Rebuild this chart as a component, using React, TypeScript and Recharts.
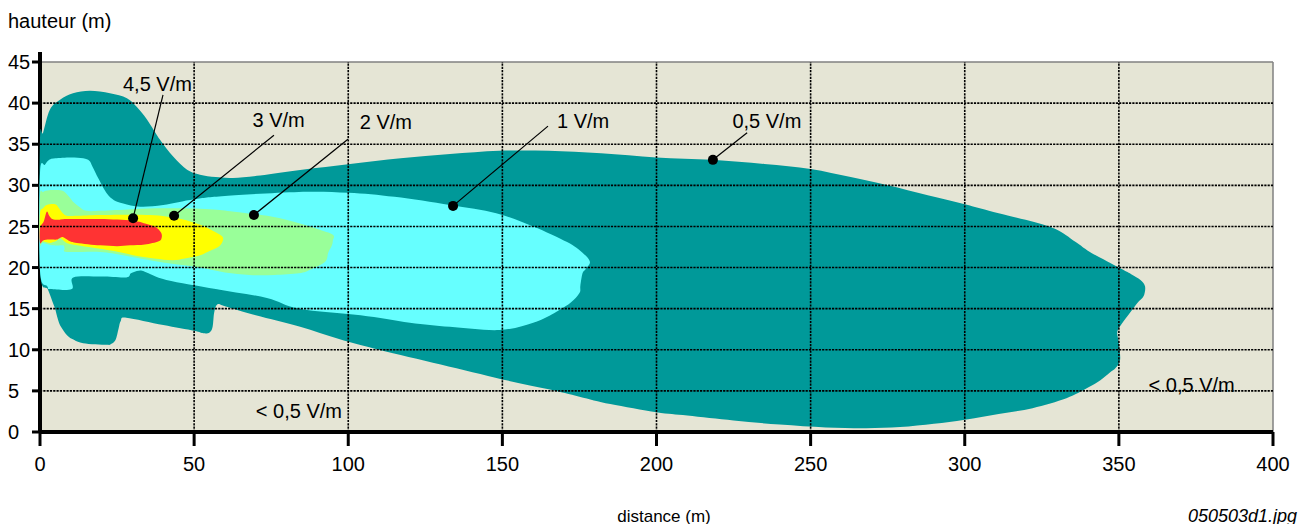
import React from "react";
import {
  CartesianGrid,
  ComposedChart,
  ReferenceLine,
  Scatter,
  XAxis,
  YAxis,
} from "recharts";

type Pt = { x: number; y: number };

// distance (m), hauteur (m) — contours
const zone05: Pt[] = [
  [0, 19.6], [0, 35.5], [1, 36.4], [3.2, 39.2], [6.5, 40.4], [10.7, 41.2], [16.2, 41.5],
  [22.7, 41.2], [28.2, 40.6], [31.5, 39.5], [34.7, 38], [39, 35.5], [43.2, 33.5],
  [47.7, 31.9], [51.9, 31.3], [57, 31], [62.6, 30.9], [71.4, 31.2], [85, 31.9],
  [100.6, 32.6], [117, 33.3], [133, 33.8], [149, 34.2], [165, 34.2], [182, 33.9],
  [200, 33.4], [218, 33.1], [235, 32.6], [250, 32], [263, 31], [275, 30], [288, 28.8],
  [300, 27.7], [311, 26.6], [328, 24.9], [336, 23.1], [340.6, 21.9], [350, 20],
  [354, 19.2], [357, 18.5], [358.5, 17.7], [358, 16.5], [356, 15.7], [353.6, 14.5],
  [351, 13.2], [349.5, 12.2], [350, 10.8], [350.4, 8.8], [349, 7.8], [347, 7.2],
  [344, 6.3], [340, 5.4], [333, 4.1], [322, 2.9], [311, 2.2], [300, 1.5], [290, 1],
  [279, 0.6], [268, 0.45], [255, 0.55], [240, 0.9], [225, 1.4], [210, 2], [200, 2.4],
  [185, 3.4], [175, 4.3], [165, 5.2], [150, 6.4], [130, 8.2], [110, 10], [97, 11.3],
  [84.4, 12.8], [70, 14.2], [60, 15.3], [57.5, 15.5], [56.5, 14.5], [56, 12.8],
  [55, 12.1], [53, 12], [50, 12.3], [40, 13], [28, 13.9], [26.2, 13.5], [25.5, 12.6],
  [24.5, 11.2], [23, 10.7], [21.7, 10.6], [14, 10.8], [10.5, 11.3], [8.7, 11.8],
  [6.8, 12.8], [5.9, 13.6], [4.9, 15], [4.3, 15.6], [2.6, 17.3],
].map(([x, y]) => ({ x, y }));

const zone1: Pt[] = [
  [0, 31.5], [1.6, 32.5], [3, 33.1], [4.9, 33.3], [10, 33.4], [14, 33.3], [16, 33],
  [17, 32.3], [19, 30.8], [21.7, 29], [24, 28.2], [27, 27.8], [32.5, 27.4], [40, 27.6],
  [50, 28.3], [60, 28.7], [84, 29.2], [100, 29.1], [115, 28.6], [133, 27.6], [148, 26.6],
  [160, 25], [171, 23.1], [176, 21.8], [178.4, 20.7], [177, 19.8], [176, 19.3],
  [175.3, 17.8], [175, 16.9], [172, 15.7], [166, 14.3], [160, 13.3], [149, 12.4],
  [133, 12.8], [120, 13.3], [104, 14.2], [84, 15], [73.6, 16.3], [57, 17.4], [41, 18.5],
  [34, 19.5], [32, 19.6], [29.5, 19.3], [28, 18.8], [20, 18.9], [10.8, 18.8],
  [10.3, 17.4], [3.5, 17.4], [2.4, 17.7], [0, 19.6],
].map(([x, y]) => ({ x, y }));

const zone2: Pt[] = [
  [0, 23], [0, 28.8], [1, 29.2], [3, 29.4], [6.5, 29.4], [8, 29.2], [9.7, 28.5], [11, 27.9],
  [13, 27.3], [15, 26.9], [20, 26.9], [30, 27.1], [41, 27.2], [55, 27.1], [63, 26.8],
  [75, 26.2], [84, 25.4], [90, 24.7], [95, 24], [95, 23.3], [94.7, 22.7], [93.5, 21.8],
  [92.5, 20.7], [88, 19.8], [84, 19.3], [76, 19.1], [68, 19.1], [60, 19.4], [52, 20],
  [44, 20.4], [35.7, 20.9], [27, 21.5], [19.5, 21.9], [8.7, 21.9], [8, 22.3], [7.5, 22.7],
  [4.3, 22.7], [1, 23],
].map(([x, y]) => ({ x, y }));

const zone3: Pt[] = [
  [0, 23.3], [0, 26.6], [1, 27.2], [2.2, 27.6], [4.9, 27.7], [6, 27.3], [7, 26.8],
  [8.7, 26.3], [12, 26.3], [19.5, 26.4], [35.7, 26.4], [44.4, 26], [48, 25.7], [52, 25.2],
  [55, 24.7], [58.4, 24], [59.4, 23.6], [59, 23], [57.8, 22.5], [55, 22], [52, 21.5],
  [47, 21.1], [43, 20.9], [37, 21.1], [30.2, 21.5], [24, 22], [17.3, 22.4], [12, 22.7],
  [8.7, 23], [7.2, 23.4], [6.5, 23.6], [5.5, 23.3], [4.3, 23.1], [3.2, 23], [1, 23.2],
].map(([x, y]) => ({ x, y }));

const zone45: Pt[] = [
  [0, 23], [0, 24.8], [1.2, 25.6], [2.2, 26.8], [3, 26.3], [4, 25.9], [6, 25.8],
  [8.7, 25.9], [19.5, 25.9], [30, 25.7], [34.6, 25.3], [37.5, 24.9], [39.2, 24.3],
  [39.5, 23.7], [38.5, 23.2], [34, 22.8], [29.2, 22.7], [25, 22.6], [19.5, 22.7],
  [12, 23], [9.7, 23.2], [8, 23.6], [7, 23.7], [6, 23.5], [5.4, 23.4], [3, 23.4],
  [1, 23.3],
].map(([x, y]) => ({ x, y }));

const zones = [
  { name: "0,5 V/m", color: "#009999", pts: zone05 },
  { name: "1 V/m", color: "#66FFFF", pts: zone1 },
  { name: "2 V/m", color: "#99FF99", pts: zone2 },
  { name: "3 V/m", color: "#FFFF00", pts: zone3 },
  { name: "4,5 V/m", color: "#FF3333", pts: zone45 },
];

// labels with their leader lines
const labelText = ["4,5 V/m", "3 V/m", "2 V/m", "1 V/m", "0,5 V/m", "< 0,5 V/m", "< 0,5 V/m"];
const labelPos: Pt[] = [
  { x: 38.1, y: 42.3 }, { x: 77.4, y: 38 }, { x: 112.2, y: 37.7 }, { x: 176.2, y: 37.9 },
  { x: 235.8, y: 37.9 }, { x: 84, y: 2.6 }, { x: 373.6, y: 5.8 },
];
const leaderFrom: Pt[] = [
  { x: 39.9, y: 41 }, { x: 75.9, y: 36.1 }, { x: 99.9, y: 35.6 }, { x: 164.8, y: 37.2 },
  { x: 229.4, y: 36.4 },
];
const leaderDot: Pt[] = [
  { x: 30.2, y: 26 }, { x: 43.5, y: 26.3 }, { x: 69.4, y: 26.4 }, { x: 134, y: 27.5 },
  { x: 218.3, y: 33.1 },
];

const xTicks = [0, 50, 100, 150, 200, 250, 300, 350, 400];
const yTicks = [0, 5, 10, 15, 20, 25, 30, 35, 40, 45];

const FONT = "'Liberation Sans', Arial, sans-serif";

function closedSmoothPath(pts: { x: number; y: number }[]) {
  const n = pts.length;
  let d = `M${pts[0].x},${pts[0].y}`;
  for (let i = 0; i < n; i++) {
    const p0 = pts[(i - 1 + n) % n];
    const p1 = pts[i];
    const p2 = pts[(i + 1) % n];
    const p3 = pts[(i + 2) % n];
    const c1x = p1.x + (p2.x - p0.x) / 6;
    const c1y = p1.y + (p2.y - p0.y) / 6;
    const c2x = p2.x - (p3.x - p1.x) / 6;
    const c2y = p2.y - (p3.y - p1.y) / 6;
    d += ` C${c1x},${c1y} ${c2x},${c2y} ${p2.x},${p2.y}`;
  }
  return d + " Z";
}

const fillShape = (color: string) => (props: any) => {
  const pts = props.points || [];
  if (pts.length < 3) return <g />;
  return <path d={closedSmoothPath(pts)} fill={color} stroke="none" />;
};

const noDot = () => <g />;

const YTick = ({ y, payload }: any) => (
  <text x={0} y={y} dy="0.355em" textAnchor="start" fontSize={20} fill="#000" fontFamily={FONT}>
    {payload.value}
  </text>
);

const gridStyle = { stroke: "#000", strokeWidth: 1.6, strokeDasharray: "2.2 1.1" };

export default function App() {
  const labels = labelText.map((t, i) => ({ ...labelPos[i], t }));
  return (
    <div style={{ position: "relative", width: 1300, height: 516 }}>
      <ComposedChart
        width={1300}
        height={516}
        margin={{ top: 54, right: 35, bottom: 32, left: 0 }}
        style={{ fontFamily: FONT }}
      >
        <CartesianGrid fill="#E5E5D5" horizontal={false} vertical={false} />
        <XAxis
          type="number"
          dataKey="x"
          domain={[0, 400]}
          ticks={xTicks}
          interval={0}
          height={60}
          tickSize={14}
          tickMargin={11}
          axisLine={{ stroke: "#000", strokeWidth: 4 }}
          tickLine={{ stroke: "#000", strokeWidth: 3 }}
          tick={{ fontSize: 20, fill: "#000" }}
        />
        <YAxis
          type="number"
          dataKey="y"
          domain={[0, 45]}
          ticks={yTicks}
          interval={0}
          width={32}
          tickSize={8}
          axisLine={{ stroke: "#000", strokeWidth: 4 }}
          tickLine={{ stroke: "#000", strokeWidth: 3 }}
          tick={<YTick />}
        />
        <ReferenceLine y={45} stroke="#808080" strokeWidth={1.5} />
        <ReferenceLine x={400} stroke="#808080" strokeWidth={1.5} />
        {zones.map((z) => (
          <Scatter
            key={z.name}
            name={z.name}
            data={z.pts}
            line={fillShape(z.color)}
            shape={noDot}
            isAnimationActive={false}
          />
        ))}
        {yTicks.slice(1, -1).map((v) => (
          <Scatter
            key={"h" + v}
            data={[{ x: 0, y: v }, { x: 400, y: v }]}
            line={gridStyle}
            shape={noDot}
            isAnimationActive={false}
          />
        ))}
        {xTicks.slice(1, -1).map((v) => (
          <Scatter
            key={"v" + v}
            data={[{ x: v, y: 0 }, { x: v, y: 45 }]}
            line={gridStyle}
            shape={noDot}
            isAnimationActive={false}
          />
        ))}
        {leaderFrom.map((p, i) => (
          <Scatter
            key={"l" + i}
            data={[p, leaderDot[i]]}
            line={{ stroke: "#000", strokeWidth: 1.2 }}
            shape={noDot}
            isAnimationActive={false}
          />
        ))}
        <Scatter
          data={leaderDot}
          fill="#000"
          shape={(p: any) => <circle cx={p.cx} cy={p.cy} r={5} fill="#000" />}
          isAnimationActive={false}
        />
        <Scatter
          data={labels}
          shape={(p: any) => (
            <text
              x={p.cx}
              y={p.cy}
              dy="0.36em"
              textAnchor="middle"
              fontSize={20}
              fill="#000"
              fontFamily={FONT}
            >
              {p.payload.t}
            </text>
          )}
          isAnimationActive={false}
        />
      </ComposedChart>
      <svg
        width={1300}
        height={516}
        style={{ position: "absolute", left: 0, top: 0, pointerEvents: "none", overflow: "visible" }}
      >
        <line x1={32} y1={44} x2={32} y2={55} stroke="#000" strokeWidth={4} />
        <text x={0} y={20} fontSize={20} fill="#000" fontFamily={FONT}>
          hauteur (m)
        </text>
        <text x={656} y={514} textAnchor="middle" fontSize={17} fill="#000" fontFamily={FONT}>
          distance (m)
        </text>
        <text
          x={1289}
          y={514}
          textAnchor="end"
          fontSize={18}
          fontStyle="italic"
          fill="#000"
          fontFamily={FONT}
        >
          050503d1.jpg
        </text>
      </svg>
    </div>
  );
}
